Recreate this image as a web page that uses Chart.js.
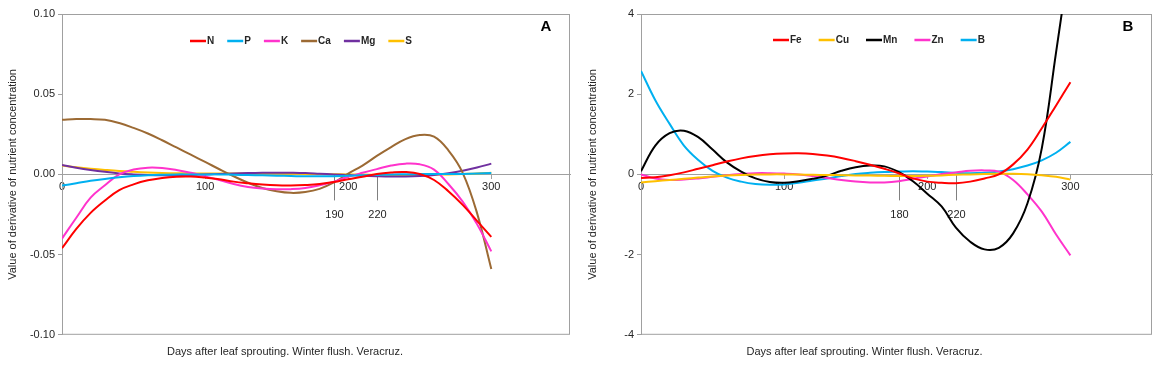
<!DOCTYPE html>
<html>
<head>
<meta charset="utf-8">
<script src="https://cdn.jsdelivr.net/npm/chart.js@4.4.1/dist/chart.umd.min.js"></script>
<style>
  html, body { margin: 0; padding: 0; background: #fff; }
  #wrapA { position: absolute; left: 0; top: 0; width: 577px; height: 367px; }
  #wrapB { position: absolute; left: 577px; top: 0; width: 576px; height: 367px; }
</style>
</head>
<body>
<div id="wrapA"><canvas id="chartA" width="577" height="367"></canvas></div>
<div id="wrapB"><canvas id="chartB" width="576" height="367"></canvas></div>
<script>
// days after leaf sprouting (shared by all curves)
var days = [0, 10, 20, 30, 40, 50, 60, 70, 80, 90, 100, 110, 120, 130, 140, 150,
            160, 170, 180, 190, 200, 210, 220, 230, 240, 250, 260, 270, 280, 290, 300];

// panel A - macronutrients
var macroNames = ['N', 'P', 'K', 'Ca', 'Mg', 'S'];
var nVals  = [-0.046, -0.034, -0.024, -0.0163, -0.0098, -0.0062, -0.0037, -0.0022, -0.0014, -0.0013, -0.002, -0.003, -0.0045, -0.0055, -0.0063, -0.0068, -0.0069, -0.0066, -0.006, -0.0048, -0.003, -0.0015, 0.0003, 0.0012, 0.0015, 0.0003, -0.0035, -0.0105, -0.019, -0.029, -0.039];
var pVals  = [-0.007, -0.0055, -0.004, -0.0028, -0.0018, -0.001, -0.0005, -0.0002, 0, 0, 0, 0, -0.0002, -0.0004, -0.0006, -0.0008, -0.001, -0.0012, -0.0012, -0.0011, -0.0009, -0.0006, -0.0003, 0, 0.0001, 0.0002, 0.0002, 0.0002, 0.0003, 0.0005, 0.0008];
var kVals  = [-0.040, -0.027, -0.0145, -0.0068, 0, 0.003, 0.0042, 0.004, 0.0028, 0.001, -0.0012, -0.0035, -0.006, -0.0078, -0.0088, -0.0093, -0.0092, -0.0085, -0.0068, -0.0045, -0.0015, 0.001, 0.0033, 0.0055, 0.0067, 0.0063, 0.003, -0.006, -0.017, -0.031, -0.048];
var caVals = [0.034, 0.0345, 0.0345, 0.034, 0.032, 0.029, 0.0255, 0.0213, 0.0168, 0.0123, 0.0078, 0.0032, -0.0012, -0.0052, -0.0085, -0.0105, -0.0115, -0.011, -0.009, -0.005, 0.0005, 0.0055, 0.0115, 0.017, 0.022, 0.0245, 0.0235, 0.015, 0.001, -0.024, -0.059];
var mgVals = [0.0058, 0.0042, 0.0028, 0.0016, 0.0006, 0, -0.0004, -0.0006, -0.0006, -0.0004, -0.0001, 0.0002, 0.0005, 0.0008, 0.001, 0.0011, 0.001, 0.0008, 0.0004, 0, -0.0004, -0.0008, -0.0011, -0.0013, -0.0013, -0.001, -0.0003, 0.0008, 0.0023, 0.0043, 0.0067];
var sVals  = [0.0055, 0.0045, 0.0036, 0.0028, 0.0021, 0.0016, 0.0012, 0.0009, 0.0007, 0.0006, 0.0005, 0.0005, 0.0005, 0.0005, 0.0005, 0.0005, 0.0004, 0.0003, 0.0002, 0.0001, 0, -0.0001, -0.0002, -0.0003, -0.0003, -0.0003, -0.0002, 0, 0.0003, 0.0006, 0.0011];
var macroColors = ['#ff0000', '#00b0f0', '#ff33cc', '#9c6a34', '#7030a0', '#ffc000'];

// panel B - micronutrients
var microNames = ['Fe', 'Cu', 'Mn', 'Zn', 'B'];
var feVals = [-0.09, -0.07, -0.02, 0.05, 0.14, 0.23, 0.32, 0.4, 0.46, 0.5, 0.52, 0.525, 0.51, 0.47, 0.41, 0.33, 0.24, 0.14, 0.03, -0.1, -0.18, -0.21, -0.22, -0.18, -0.1, 0.0, 0.25, 0.62, 1.15, 1.72, 2.3];
var cuVals = [-0.2, -0.17, -0.14, -0.11, -0.08, -0.05, -0.03, -0.015, -0.005, 0, 0, -0.005, -0.01, -0.015, -0.02, -0.025, -0.03, -0.035, -0.04, -0.04, -0.035, -0.025, -0.01, 0, 0.01, 0.015, 0.015, 0.005, -0.02, -0.06, -0.13];
var mnVals = [0.08, 0.72, 1.03, 1.09, 0.93, 0.62, 0.3, 0.07, -0.1, -0.19, -0.21, -0.17, -0.11, -0.03, 0.09, 0.18, 0.22, 0.2, 0.06, -0.17, -0.48, -0.8, -1.33, -1.68, -1.87, -1.83, -1.47, -0.72, 0.65, 3.05, 5.5];
var znVals = [0, -0.1, -0.14, -0.13, -0.1, -0.06, -0.02, 0.01, 0.03, 0.03, 0.02, 0, -0.04, -0.09, -0.14, -0.18, -0.2, -0.2, -0.17, -0.11, -0.05, 0.01, 0.05, 0.09, 0.1, 0.07, -0.14, -0.5, -0.93, -1.5, -2.02];
var bVals  = [2.58, 1.85, 1.26, 0.72, 0.36, 0.09, -0.08, -0.18, -0.24, -0.26, -0.25, -0.21, -0.15, -0.1, -0.04, 0.01, 0.04, 0.06, 0.07, 0.08, 0.07, 0.06, 0.04, 0.03, 0.04, 0.07, 0.13, 0.22, 0.35, 0.54, 0.81];
var microColors = ['#ff0000', '#ffc000', '#000000', '#ff33cc', '#00b0f0'];

// x tick labels and marked days on each panel
var dayTicks = [0, 100, 200, 300];
var marksA = [190, 220];
var marksB = [180, 220];

var xTitle = 'Days after leaf sprouting. Winter flush. Veracruz.';
var yTitle = 'Value of derivative of nutrient concentration';

var FONT = '"Liberation Sans", Arial, sans-serif';
var TEXT = '#262626';
var AXIS = '#a0a0a0';

Chart.defaults.font.family = FONT;
Chart.defaults.color = TEXT;

function makeDatasets(names, series, colors) {
    return names.map(function(name, i) {
        return {
            label: name,
            data: days.map(function(d, j) { return {x: d, y: series[i][j]}; }),
            borderColor: colors[i],
            backgroundColor: colors[i],
            borderWidth: 2,
            pointRadius: 0,
            tension: 0.4,
            fill: false
        };
    });
}

// legend drawn inside the plot, Excel style
var insideLegend = {
    id: 'insideLegend',
    afterDatasetsDraw: function(chart, args, opts) {
        var ctx = chart.ctx;
        var area = chart.chartArea;
        var x = area.left + opts.left;
        var y = area.top + opts.top;
        ctx.save();
        ctx.font = 'bold 10px ' + FONT;
        ctx.textBaseline = 'middle';
        ctx.textAlign = 'left';
        chart.data.datasets.forEach(function(ds) {
            ctx.strokeStyle = ds.borderColor;
            ctx.lineWidth = 2.5;
            ctx.beginPath();
            ctx.moveTo(x, y);
            ctx.lineTo(x + 16, y);
            ctx.stroke();
            ctx.fillStyle = TEXT;
            ctx.fillText(ds.label, x + 17, y + 0.5);
            x += 17 + ctx.measureText(ds.label).width + opts.gap;
        });
        ctx.restore();
    }
};

// frame, day marks and panel letter
var panelDecor = {
    id: 'panelDecor',
    beforeDatasetsDraw: function(chart, args, opts) {
        var ctx = chart.ctx;
        var area = chart.chartArea;
        var xs = chart.scales.x;
        var ys = chart.scales.y;
        ctx.save();
        ctx.strokeStyle = AXIS;
        ctx.lineWidth = 1;
        ctx.strokeRect(area.left + 0.5, area.top + 0.5, area.right - area.left - 1, area.bottom - area.top - 1);

        var y0 = ys.getPixelForValue(0);
        ctx.strokeStyle = '#808080';
        ctx.font = '11px ' + FONT;
        ctx.fillStyle = TEXT;
        ctx.textAlign = 'center';
        ctx.textBaseline = 'middle';
        opts.marks.forEach(function(d) {
            var px = Math.round(xs.getPixelForValue(d)) + 0.5;
            ctx.beginPath();
            ctx.moveTo(px, y0);
            ctx.lineTo(px, y0 + 26);
            ctx.stroke();
            ctx.fillText(String(d), px, y0 + 41);
        });

        ctx.font = 'bold 15px ' + FONT;
        ctx.fillStyle = '#000';
        ctx.fillText(opts.letter, area.right - 24, area.top + 13);
        ctx.restore();
    }
};

function makeChart(id, datasets, cfg) {
    return new Chart(document.getElementById(id).getContext('2d'), {
        type: 'line',
        data: { datasets: datasets },
        plugins: [panelDecor, insideLegend],
        options: {
            responsive: false,
            animation: false,
            layout: { padding: { top: 14, right: cfg.padRight, bottom: 0, left: 0 } },
            plugins: {
                legend: { display: false },
                tooltip: { enabled: false },
                title: {
                    display: true,
                    position: 'bottom',
                    text: xTitle,
                    color: TEXT,
                    font: { size: 11, weight: 'normal' },
                    padding: { top: 11, bottom: 8 }
                },
                insideLegend: cfg.legend,
                panelDecor: { marks: cfg.marks, letter: cfg.letter }
            },
            scales: {
                x: {
                    type: 'linear',
                    position: { y: 0 },
                    min: 0,
                    max: cfg.xMax,
                    afterBuildTicks: function(scale) {
                        scale.ticks = dayTicks.map(function(v) { return {value: v}; });
                    },
                    ticks: { font: { size: 11 }, color: TEXT, padding: 2, maxRotation: 0 },
                    grid: { drawOnChartArea: false, tickLength: 4, color: AXIS },
                    border: { color: AXIS, width: 1 }
                },
                y: {
                    min: cfg.yMin,
                    max: cfg.yMax,
                    afterFit: function(scale) { scale.width = cfg.yWidth; },
                    ticks: {
                        stepSize: cfg.yStep,
                        font: { size: 11 },
                        color: TEXT,
                        padding: 3,
                        callback: cfg.yFormat
                    },
                    grid: { drawOnChartArea: false, tickLength: 4, color: AXIS },
                    border: { color: AXIS, width: 1 },
                    title: {
                        display: true,
                        text: yTitle,
                        color: TEXT,
                        font: { size: 11 },
                        padding: { top: cfg.titlePad, bottom: 0 }
                    }
                }
            }
        }
    });
}

makeChart('chartA', makeDatasets(macroNames, [nVals, pVals, kVals, caVals, mgVals, sVals], macroColors), {
    yMin: -0.1, yMax: 0.1, yStep: 0.05, yWidth: 62, padRight: 7, xMax: 355, titlePad: 6,
    yFormat: function(v) { return Number(v).toFixed(2); },
    marks: marksA, letter: 'A',
    legend: { left: 128, top: 27, gap: 13 }
});

makeChart('chartB', makeDatasets(microNames, [feVals, cuVals, mnVals, znVals, bVals], microColors), {
    yMin: -4, yMax: 4, yStep: 2, yWidth: 64, padRight: 1, xMax: 357, titlePad: 9,
    yFormat: function(v) { return String(Math.round(v)); },
    marks: marksB, letter: 'B',
    legend: { left: 132, top: 26, gap: 17 }
});
</script>
</body>
</html>
